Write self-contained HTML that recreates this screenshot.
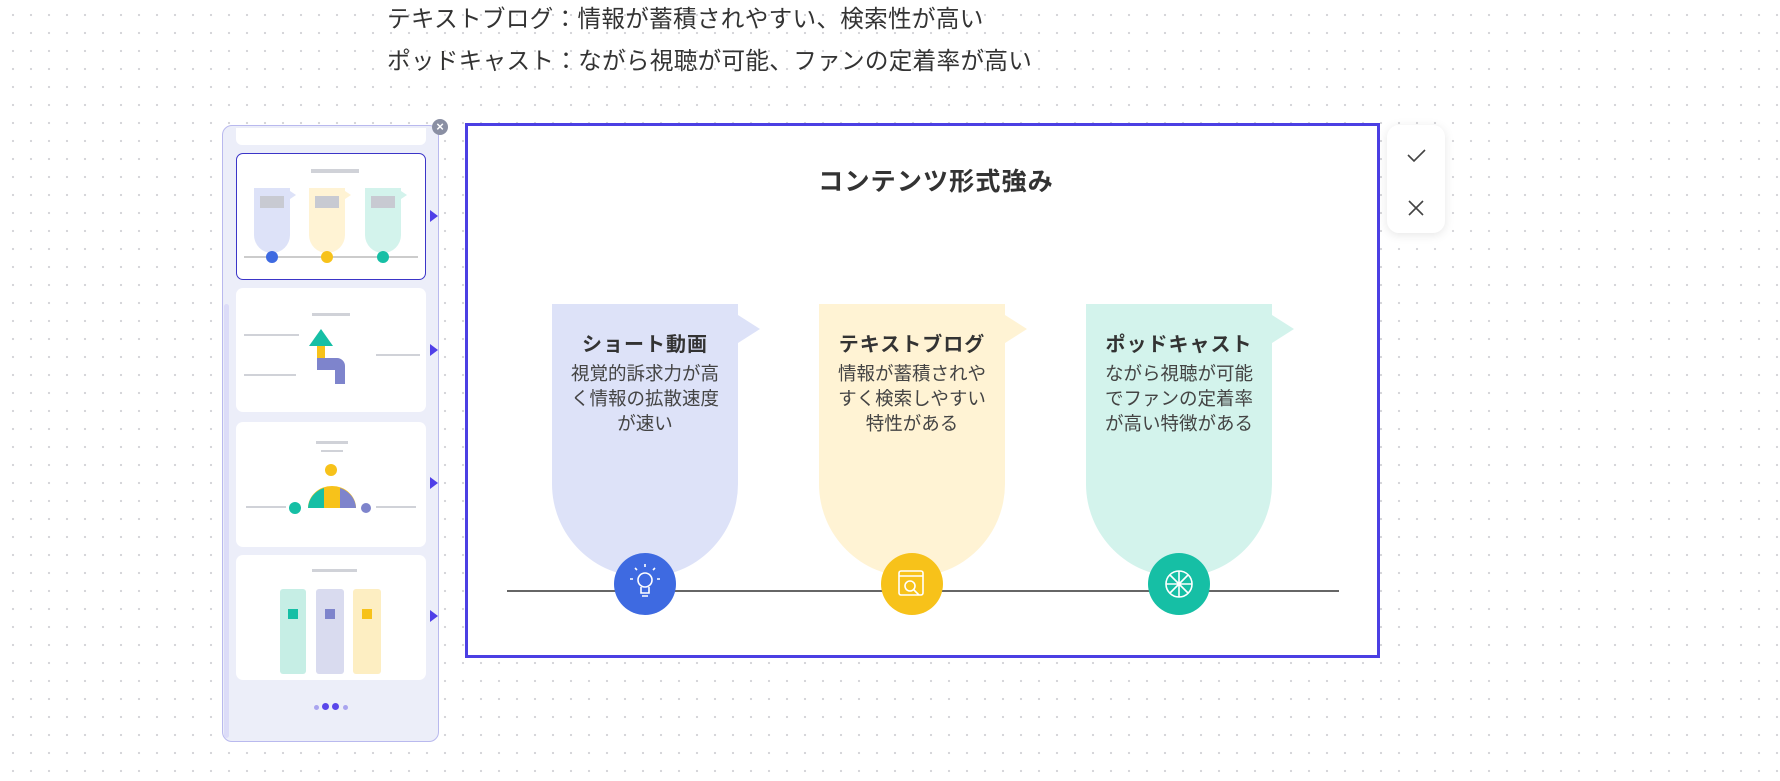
<!DOCTYPE html>
<html><head><meta charset="utf-8">
<style>
*{margin:0;padding:0;box-sizing:border-box}
body{width:1780px;height:781px;overflow:hidden;position:relative;background-color:#fff;
background-image:radial-gradient(circle,#d4d4d8 1px,transparent 1.3px);background-size:18px 18px;background-position:4px 6px;
font-family:"Liberation Sans","Noto Sans CJK JP",sans-serif;color:#333}
.a{position:absolute}
.top{left:387px;font-size:23.6px;color:#333;white-space:nowrap;letter-spacing:0.3px}
.thumb{position:absolute;left:236px;width:190px;background:#fff;border-radius:7px}
.tri{position:absolute;left:430px;width:0;height:0;border-top:6px solid transparent;border-bottom:6px solid transparent;border-left:8px solid #4f3fe8}
.ct{position:absolute;width:186px;text-align:center}
.ct h3{font-size:20px;font-weight:bold;color:#333;margin-top:24px;letter-spacing:1px}
.ct p{font-size:18.5px;line-height:25px;color:#444;margin-top:4px;white-space:nowrap}
</style></head><body>
<div class="a top" style="top:0px">テキストブログ：情報が蓄積されやすい、検索性が高い</div>
<div class="a top" style="top:42px">ポッドキャスト：ながら視聴が可能、ファンの定着率が高い</div>

<!-- left panel -->
<div class="a" style="left:222px;top:125px;width:217px;height:617px;background:#eceef9;border:1px solid #b9b9ee;border-radius:10px"></div>
<div class="a" style="left:224px;top:304px;width:5px;height:434px;background:#dcdcf8;border-radius:3px"></div>
<div class="thumb" style="top:128px;height:17px;border-radius:0 0 6px 6px"></div>
<div class="thumb" style="top:153px;height:127px;border:1.5px solid #3b35c8">
<svg width="190" height="127" style="position:absolute;left:-1px;top:-1px">
<rect x="75" y="16" width="48" height="4" fill="#d0d2d8"/>
<path d="M18,35h36v3l6,4l-6,4v36a18,18 0 0 1 -36,0z" fill="#dde2f8"/>
<path d="M73,35h36v3l6,4l-6,4v36a18,18 0 0 1 -36,0z" fill="#fff3d4"/>
<path d="M129,35h36v3l6,4l-6,4v36a18,18 0 0 1 -36,0z" fill="#d3f3ec"/>
<rect x="24" y="43" width="24" height="12" fill="#c8cad2"/><rect x="79" y="43" width="24" height="12" fill="#c8cad2"/><rect x="135" y="43" width="24" height="12" fill="#c8cad2"/>
<line x1="8" y1="104" x2="182" y2="104" stroke="#999" stroke-width="1"/>
<circle cx="36" cy="104" r="6" fill="#3e6ae1"/><circle cx="91" cy="104" r="6" fill="#f7c21a"/><circle cx="147" cy="104" r="6" fill="#16bfa5"/>
</svg></div>
<div class="thumb" style="top:288px;height:124px">
<svg width="190" height="124" style="position:absolute;left:0;top:0">
<rect x="76" y="25" width="38" height="3" fill="#d0d2d8"/>
<rect x="8" y="46" width="55" height="2" fill="#d0d2d8"/><rect x="140" y="66" width="44" height="2" fill="#d0d2d8"/><rect x="8" y="86" width="52" height="2" fill="#d0d2d8"/>
<polygon points="85,41 73,58 97,58" fill="#16bfa5"/>
<rect x="81" y="58" width="8" height="16" fill="#f7c21a"/>
<path d="M81,70h20a8,8 0 0 1 8,8v18h-10v-14h-18z" fill="#7e84cc"/>
</svg></div>
<div class="thumb" style="top:422px;height:125px">
<svg width="190" height="125" style="position:absolute;left:0;top:0">
<rect x="80" y="19" width="32" height="3" fill="#d0d2d8"/><rect x="85" y="28" width="22" height="2" fill="#d0d2d8"/>
<circle cx="95" cy="48" r="6" fill="#f7c21a"/>
<path d="M72,86a24,22 0 0 1 48,0z" fill="#f7c21a"/><path d="M72,86a24,22 0 0 1 16,-20l0,20z" fill="#16bfa5"/><path d="M104,66a24,22 0 0 1 16,20h-16z" fill="#7e84cc"/>
<circle cx="59" cy="86" r="6" fill="#16bfa5"/><circle cx="130" cy="86" r="5" fill="#7e84cc"/>
<rect x="10" y="84" width="40" height="2" fill="#d0d2d8"/><rect x="140" y="84" width="40" height="2" fill="#d0d2d8"/>
</svg></div>
<div class="thumb" style="top:555px;height:125px">
<svg width="190" height="125" style="position:absolute;left:0;top:0">
<rect x="76" y="14" width="45" height="3" fill="#d0d2d8"/>
<rect x="44" y="34" width="26" height="85" fill="#c6eee5" rx="3"/>
<rect x="80" y="34" width="28" height="85" fill="#d9dbef" rx="3"/>
<rect x="117" y="34" width="28" height="85" fill="#fdeec2" rx="3"/>
<rect x="52" y="54" width="10" height="10" fill="#16bfa5"/><rect x="89" y="54" width="10" height="10" fill="#7e84cc"/><rect x="126" y="54" width="10" height="10" fill="#f7c21a"/>
</svg></div>
<div class="a" style="left:314px;top:705px;width:5px;height:5px;border-radius:50%;background:#a9a4ef"></div>
<div class="a" style="left:322px;top:703px;width:7px;height:7px;border-radius:50%;background:#5a47ea"></div>
<div class="a" style="left:332px;top:703px;width:7px;height:7px;border-radius:50%;background:#5a47ea"></div>
<div class="a" style="left:343px;top:705px;width:5px;height:5px;border-radius:50%;background:#a9a4ef"></div>
<div class="tri" style="top:210px"></div><div class="tri" style="top:344px"></div><div class="tri" style="top:477px"></div><div class="tri" style="top:610px"></div>
<div class="a" style="left:432px;top:119px;width:16px;height:16px;border-radius:50%;background:#8a8fa3;color:#fff;font-size:13px;line-height:16px;text-align:center;font-weight:bold">×</div>

<!-- main frame -->
<div class="a" style="left:465px;top:123px;width:915px;height:535px;background:#fff;border:3px solid #4b3fe3"></div>
<div class="a" style="left:736px;top:162px;width:400px;text-align:center;font-size:25.2px;font-weight:bold;color:#333;letter-spacing:1px">コンテンツ形式強み</div>
<svg class="a" style="left:0;top:0" width="1780" height="781">
<path d="M552,304h186v11l22,14l-22,14v141a93,93 0 0 1 -186,0z" fill="#dde2f8"/>
<path d="M819,304h186v11l22,14l-22,14v141a93,93 0 0 1 -186,0z" fill="#fff3d4"/>
<path d="M1086,304h186v11l22,14l-22,14v141a93,93 0 0 1 -186,0z" fill="#d3f3ec"/>
<line x1="507" y1="591" x2="1339" y2="591" stroke="#666" stroke-width="2"/>
<circle cx="645" cy="584" r="31" fill="#3e6ae1"/>
<circle cx="912" cy="584" r="31" fill="#f7c21a"/>
<circle cx="1179" cy="584" r="31" fill="#16bfa5"/>
<g stroke="#fff" stroke-width="1.6" fill="none">
<circle cx="645" cy="580" r="7"/><path d="M641,587v6h8v-6M642,596h6"/><path d="M633,579h-3M657,579h3M637,570l-2,-2M653,570l2,-2M645,567v-3"/>
<rect x="899" y="571" width="24" height="24" rx="2"/><line x1="899" y1="576" x2="923" y2="576"/><circle cx="910" cy="586" r="5"/><line x1="914" y1="590" x2="919" y2="595"/>
<circle cx="1179" cy="584" r="13"/><path d="M1179,571v26M1166,584h26M1170,575l18,18M1188,575l-18,18"/>
</g>
</svg>
<div class="ct" style="left:552px;top:304px"><h3>ショート動画</h3><p>視覚的訴求力が高<br>く情報の拡散速度<br>が速い</p></div>
<div class="ct" style="left:819px;top:304px"><h3>テキストブログ</h3><p>情報が蓄積されや<br>すく検索しやすい<br>特性がある</p></div>
<div class="ct" style="left:1086px;top:304px"><h3>ポッドキャスト</h3><p>ながら視聴が可能<br>でファンの定着率<br>が高い特徴がある</p></div>

<!-- check panel -->
<div class="a" style="left:1387px;top:125px;width:58px;height:108px;background:#fff;border-radius:12px;box-shadow:0 2px 10px rgba(0,0,0,0.1)"></div>
<svg class="a" style="left:1387px;top:125px" width="58" height="108">
<path d="M21,30l6,6l11,-11" stroke="#444" stroke-width="1.6" fill="none"/>
<path d="M22,76l14,14M36,76l-14,14" stroke="#444" stroke-width="1.6" fill="none"/>
</svg>
</body></html>
